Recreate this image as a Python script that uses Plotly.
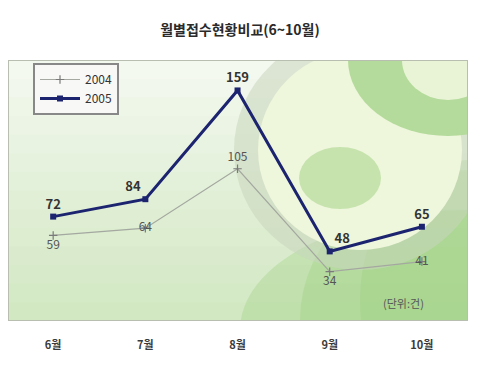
import plotly.graph_objects as go

months = ["6월", "7월", "8월", "9월", "10월"]
v2004 = [59, 64, 105, 34, 41]
v2005 = [72, 84, 159, 48, 65]
title_text = "월별접수현황비교(6~10월)"
unit_text = "(단위:건)"

FONT = "Noto Sans CJK KR"
W, H = 480, 374
L, R, T, B = 8, 468, 60, 321  # plot area in pixels

fig = go.Figure()

shapes = []
def rect(x0, y0, x1, y1, color):
    shapes.append(dict(type="rect", xref="x2", yref="y2", x0=x0, y0=y0, x1=x1, y1=y1,
                       fillcolor=color, line=dict(width=0), layer="below"))
def ell(cx, cy, rx, ry, color):
    shapes.append(dict(type="circle", xref="x2", yref="y2", x0=cx - rx, x1=cx + rx,
                       y0=cy - ry, y1=cy + ry, fillcolor=color, line=dict(width=0), layer="below"))

top = (244, 249, 240)
bot = (210, 232, 194)
n = 14
for i in range(n):
    t = i / (n - 1)
    c = tuple(int(top[k] + (bot[k] - top[k]) * t) for k in range(3))
    y0 = T + (B - T) * i / n
    y1 = T + (B - T) * (i + 1) / n + 1
    rect(L, y0, R, y1, "rgb(%d,%d,%d)" % c)
# soft greener lower-right via translucent layers
for (cx, cy, rx, ry) in [(470, 330, 230, 120), (470, 320, 170, 150), (470, 300, 110, 140)]:
    ell(cx, cy, rx, ry, "rgba(150,205,120,0.30)")
ell(360, 150, 126, 120, "rgba(200,214,188,0.55)")
ell(360, 150, 102, 100, "#eef6db")
ell(448, 60, 100, 76, "#b4db9c")
ell(448, 60, 46, 40, "#e9f4d6")
ell(340, 178, 41, 31, "#c6e3ae")
shapes.append(dict(type="rect", xref="x2", yref="y2", x0=L, y0=T, x1=R, y1=B,
                   line=dict(color="#b8bfb0", width=2), fillcolor="rgba(0,0,0,0)", layer="below"))

fig.add_trace(go.Scatter(x=[L, R], y=[T, B], xaxis="x2", yaxis="y2", mode="markers",
                         marker=dict(opacity=0), showlegend=False, hoverinfo="skip"))

fig.add_trace(go.Scatter(
    x=months, y=v2004, name="2004", mode="lines+markers+text",
    line=dict(color="#a4a8a0", width=1.2),
    marker=dict(symbol="cross-thin", size=6, color="#7a7a7a", line=dict(color="#7a7a7a", width=1.2)),
    text=[str(v) for v in v2004],
    textposition=["bottom center", "middle center", "top center", "bottom center", "middle center"],
    textfont=dict(family=FONT, size=12, color="#555555"),
))
fig.add_trace(go.Scatter(
    x=months, y=v2005, name="2005", mode="lines+markers+text",
    line=dict(color="#1c2470", width=3),
    marker=dict(symbol="square", size=6, color="#1c2470"),
    text=["<b>%d</b>" % v for v in v2005],
    textposition=["top center", "top left", "top center", "top right", "top center"],
    textfont=dict(family=FONT, size=13, color="#333333"),
))

fig.update_layout(
    width=W, height=H,
    margin=dict(l=L, r=W - R, t=T, b=H - B, pad=0),
    paper_bgcolor="white", plot_bgcolor="rgba(0,0,0,0)",
    shapes=shapes,
    title=dict(text="<b>" + title_text + "</b>", x=0.5, xanchor="center", y=1 - 30 / H, yanchor="middle",
               font=dict(family=FONT, size=14, color="#2a2a2a")),
    xaxis=dict(type="category", range=[-0.49, 4.5], showgrid=False, zeroline=False, showline=False,
               ticks="", ticklabelstandoff=16,
               tickvals=months, ticktext=["<b>%s</b>" % m for m in months],
               tickfont=dict(family=FONT, size=11, color="#3a3a3a")),
    yaxis=dict(range=[0, 180], visible=False),
    xaxis2=dict(range=[L, R], overlaying="x", visible=False),
    yaxis2=dict(range=[B, T], overlaying="y", visible=False),
    legend=dict(x=(33 - L) / (R - L), y=(B - 63) / (B - T), xanchor="left", yanchor="top",
                bgcolor="#f8f8f6", bordercolor="#888888", borderwidth=2,
                font=dict(family=FONT, size=12, color="#333333"),
                itemwidth=40, tracegroupgap=0),
    annotations=[dict(text=unit_text, xref="paper", yref="paper",
                      x=(403 - L) / (R - L), y=(B - 303) / (B - T), xanchor="center", yanchor="middle",
                      showarrow=False, font=dict(family=FONT, size=11, color="#555555"))],
    showlegend=True,
)

fig.write_html("out.html")
